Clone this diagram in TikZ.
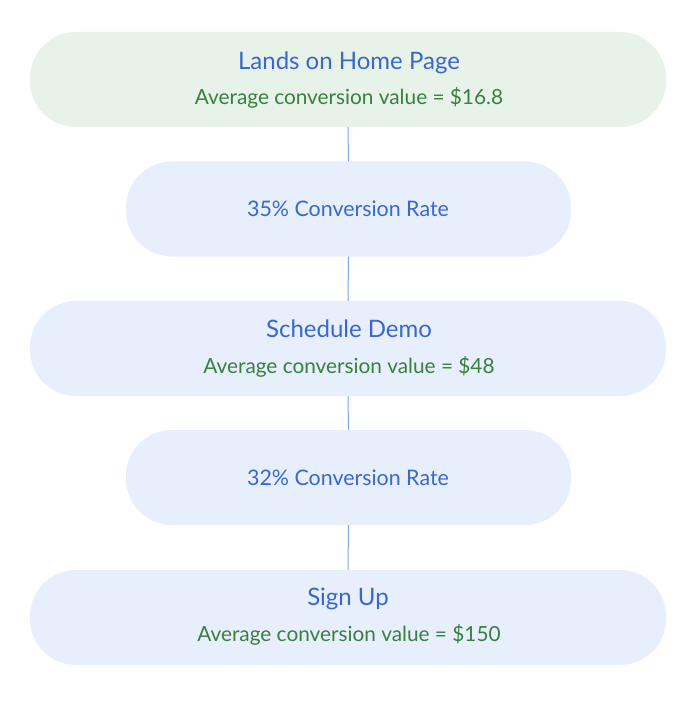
\documentclass[tikz,border=0pt]{standalone}
\usepackage{fontspec}
\setmainfont{Lato}
\definecolor{greenfill}{HTML}{E7F3E8}
\definecolor{bluefill}{HTML}{E8EFFC}
\definecolor{titleblue}{HTML}{3A67CF}
\definecolor{valgreen}{HTML}{3A7F3E}
\definecolor{linkblue}{HTML}{7FA6E6}
\begin{document}
\begin{tikzpicture}[x=1pt,y=-1pt,
  pill/.style={rounded corners=46pt, minimum height=95pt, inner sep=0pt},
  widepill/.style={pill, minimum width=636pt},
  narrowpill/.style={pill, minimum width=445pt},
  lbl/.style={anchor=base, inner sep=0pt},
  titletext/.style={lbl, text=titleblue, font=\fontsize{24}{27}\selectfont},
  valtext/.style={lbl, text=valgreen, font=\fontsize{20.8}{24}\selectfont},
  ratetext/.style={lbl, text=titleblue, font=\fontsize{21.4}{25}\selectfont},
  link/.style={draw=linkblue, line width=1pt}]
\fill[white] (0,0) rectangle (691,711);
\useasboundingbox (0,0) rectangle (691,711);
\node[widepill, fill=greenfill] (b1) at (348,79.5) {};
\node[narrowpill, fill=bluefill] (b2) at (348.5,209) {};
\node[widepill, fill=bluefill] (b3) at (348,348.5) {};
\node[narrowpill, fill=bluefill] (b4) at (348.5,477.5) {};
\node[widepill, fill=bluefill] (b5) at (348,617.5) {};
\node[titletext] (t1) at (349,69.3) {Lands on Home Page};
\node[valtext] (v1) at (349,105) {Average conversion value = \$16.8};
\node[ratetext] (r1) at (348,216.7) {35\% Conversion Rate};
\node[titletext] (t3) at (349,337.3) {Schedule Demo};
\node[valtext] (v3) at (349,373.3) {Average conversion value = \$48};
\node[ratetext] (r2) at (348,485) {32\% Conversion Rate};
\node[titletext] (t5) at (348,605) {Sign Up};
\node[valtext] (v5) at (349,641) {Average conversion value = \$150};
\draw[link] (b1.south) -- (b2.north);
\draw[link] (b2.south) -- (b3.north);
\draw[link] (b3.south) -- (b4.north);
\draw[link] (b4.south) -- (b5.north);
\end{tikzpicture}
\end{document}
